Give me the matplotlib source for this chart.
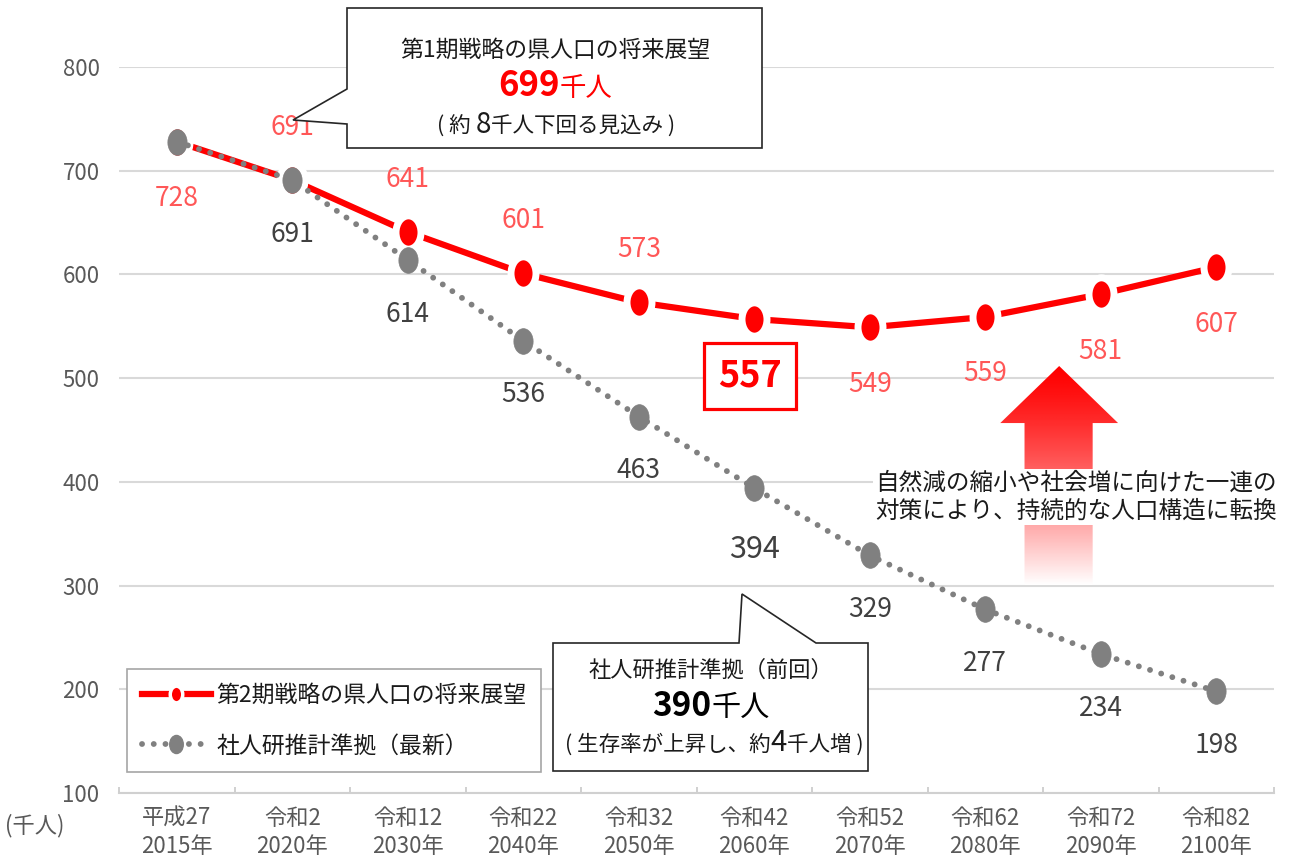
import numpy as np
import matplotlib
matplotlib.use('Agg')
import matplotlib.pyplot as plt
from matplotlib.path import Path
from matplotlib.patches import Polygon
from matplotlib.lines import Line2D
from matplotlib.colors import LinearSegmentedColormap

plt.rcParams['font.family'] = ['Noto Sans CJK JP', 'DejaVu Sans']

# データ（千人）
eras = ['平成27', '令和2', '令和12', '令和22', '令和32', '令和42', '令和52', '令和62', '令和72', '令和82']
years = [2015, 2020, 2030, 2040, 2050, 2060, 2070, 2080, 2090, 2100]
strategy2 = [728, 691, 641, 601, 573, 557, 549, 559, 581, 607]
ipss_latest = [728, 691, 614, 536, 463, 394, 329, 277, 234, 198]
red_label_side = ['below', 'above', 'above', 'above', 'above', 'box', 'below', 'below', 'below', 'below']

W, H = 1296, 865
RED = '#FF0000'
RED_LBL = '#FF5757'
GRAY = '#808080'
DARK = '#404040'
TICK = '#595959'
DOTS = (0, (0.01, 2.0))


def fx(px):
    return px / W


def fy(py):
    return 1 - py / H


def draw_runs(fig, cx, base_y, runs):
    # 文字サイズの違う文字列を横に並べて中央揃え
    renderer = fig.canvas.get_renderer()
    texts, widths = [], []
    for s, size, weight, color in runs:
        t = fig.text(0, 0, s, fontsize=size, fontweight=weight, color=color,
                     ha='left', va='baseline', zorder=5)
        texts.append(t)
        widths.append(t.get_window_extent(renderer).width)
    x = cx - sum(widths) / 2
    for t, w in zip(texts, widths):
        t.set_position((fx(x), fy(base_y)))
        x += w


# 縦長の楕円マーカー
circ = Path.unit_circle()
ellipse = Path(circ.vertices * np.array([0.75, 1.0]), circ.codes)

fig = plt.figure(figsize=(W / 100, H / 100), dpi=100)
ax = fig.add_axes([fx(119), fy(793), fx(1274) - fx(119), fy(67) - fy(793)])

x = np.arange(len(years))
ax.plot(x, strategy2, color=RED, lw=4.5, marker=ellipse, ms=24,
        mfc=RED, mec='white', mew=5, zorder=3, solid_capstyle='butt')
ax.plot(x, ipss_latest, color=GRAY, lw=4.2, linestyle=DOTS,
        dash_capstyle='round', marker=ellipse, ms=18.5, mfc=GRAY, mec=GRAY, mew=0.5, zorder=4)

ax.set_xlim(-0.5, len(years) - 0.5)
ax.set_ylim(100, 800)
ax.set_yticks(range(100, 801, 100))
ax.set_xticks(x)
ax.set_xticklabels([f'{e}\n{y}年' for e, y in zip(eras, years)])
ax.set_xticks(np.arange(-0.5, len(years)), minor=True)
for lbl in ax.get_xticklabels():
    lbl.set_linespacing(1.3)
ax.tick_params(axis='y', length=0, pad=14, labelsize=16, labelcolor=TICK)
ax.tick_params(axis='x', which='major', length=0, pad=10, labelsize=16, labelcolor=TICK)
ax.tick_params(axis='x', which='minor', length=4, direction='in', color='#C8C8C8', width=1.2)
ax.grid(axis='y', color='#D9D9D9', lw=1.5)
ax.set_axisbelow(True)
for side in ['left', 'right', 'top']:
    ax.spines[side].set_visible(False)
ax.spines['bottom'].set_color('#D0D0D0')
ax.spines['bottom'].set_linewidth(1.5)

# データラベル
for i, v in enumerate(strategy2):
    side = red_label_side[i]
    if side == 'box':
        ax.annotate(str(v), (i, v), xytext=(-3, -41), textcoords='offset points',
                    ha='center', va='center', fontsize=26, fontweight='bold', color=RED,
                    bbox=dict(boxstyle='square,pad=0.4', fc='white', ec=RED, lw=2.3), zorder=6)
    else:
        dy = 38 if side == 'above' else -41
        ax.annotate(str(v), (i, v), xytext=(0, dy), textcoords='offset points',
                    ha='center', va='center', fontsize=19, color=RED_LBL, zorder=6)
for i, v in enumerate(ipss_latest):
    if i == 0:
        continue
    big = (i == 5)
    ax.annotate(str(v), (i, v), xytext=(0, -44 if big else -39), textcoords='offset points',
                ha='center', va='center', fontsize=22 if big else 19, color=DARK, zorder=6)

# グラデーションの矢印
arrow_pts = [(7.64, 511.7), (8.15, 456.7), (7.93, 456.7), (7.93, 300.5),
             (7.34, 300.5), (7.34, 456.7), (7.13, 456.7)]
arrow = Polygon(arrow_pts, closed=True, fc='none', ec='none', zorder=2)
ax.add_patch(arrow)
grad = np.linspace(0, 1, 256) ** 1.3
grad = grad[:, None]
cmap = LinearSegmentedColormap.from_list('rw', ['#FF0000', '#FFFFFF'])
im = ax.imshow(grad, cmap=cmap, extent=(7.13, 8.15, 300.5, 511.7), origin='upper',
               aspect='auto', zorder=2, interpolation='bilinear')
im.set_clip_path(arrow)
ax.set_xlim(-0.5, len(years) - 0.5)
ax.set_ylim(100, 800)

fig.text(fx(875), fy(497), '自然減の縮小や社会増に向けた一連の\n対策により、持続的な人口構造に転換',
         fontsize=17, color='#1A1A1A', ha='left', va='center', linespacing=1.25, zorder=5,
         bbox=dict(boxstyle='square,pad=0.1', fc='white', ec='none'))

# 吹き出し（第1期）
c1 = [(347, 8), (762, 8), (762, 148), (347, 148), (347, 124), (293, 120), (347, 89)]
fig.patches.append(Polygon([(fx(a), fy(b)) for a, b in c1], closed=True, fc='white',
                           ec='#262626', lw=1.2, transform=fig.transFigure, figure=fig, zorder=4))
draw_runs(fig, 555, 57, [('第1期戦略の県人口の将来展望', 16.5, 'normal', '#1A1A1A')])
draw_runs(fig, 555, 96, [('699', 25, 'bold', RED), ('千人', 19, 'normal', RED)])
draw_runs(fig, 556, 133, [('( 約 ', 15.5, 'normal', '#1A1A1A'), ('8', 20, 'normal', '#1A1A1A'),
                          ('千人下回る見込み )', 15.5, 'normal', '#1A1A1A')])

# 吹き出し（社人研 前回）
c2 = [(553, 643), (739, 643), (742, 594), (816, 643), (868, 643), (868, 771), (553, 771)]
fig.patches.append(Polygon([(fx(a), fy(b)) for a, b in c2], closed=True, fc='white',
                           ec='#262626', lw=1.2, transform=fig.transFigure, figure=fig, zorder=4))
draw_runs(fig, 711, 677, [('社人研推計準拠（前回）', 16, 'normal', '#1A1A1A')])
draw_runs(fig, 711, 716, [('390', 24, 'bold', '#000000'), ('千人', 21, 'normal', '#000000')])
draw_runs(fig, 714, 751, [('( 生存率が上昇し、約', 15.5, 'normal', '#1A1A1A'),
                          ('4', 21, 'normal', '#1A1A1A'), ('千人増 )', 15.5, 'normal', '#1A1A1A')])

# 凡例
h_red = Line2D([], [], color=RED, lw=4.5, marker=ellipse, ms=12, mfc=RED, mec='white', mew=2.5)
h_gray = Line2D([], [], color=GRAY, lw=4.2, linestyle=DOTS, dash_capstyle='round',
                marker=ellipse, ms=13, mfc=GRAY, mec=GRAY)
leg = ax.legend([h_red, h_gray], ['第2期戦略の県人口の将来展望', '社人研推計準拠（最新）'],
                loc='upper left', bbox_to_anchor=(fx(127), fy(669)), bbox_transform=fig.transFigure,
                borderaxespad=0, fontsize=16.5, frameon=True, fancybox=False, edgecolor='#A6A6A6',
                framealpha=1, handlelength=3.0, handletextpad=0.25, borderpad=0.65, labelspacing=1.2)
leg.get_frame().set_linewidth(1.2)
leg.set_zorder(7)
for t in leg.get_texts():
    t.set_color('#1A1A1A')

fig.text(fx(5), fy(826), '(千人)', fontsize=16, color=TICK, ha='left', va='center')

fig.savefig('out.png', dpi=100)
